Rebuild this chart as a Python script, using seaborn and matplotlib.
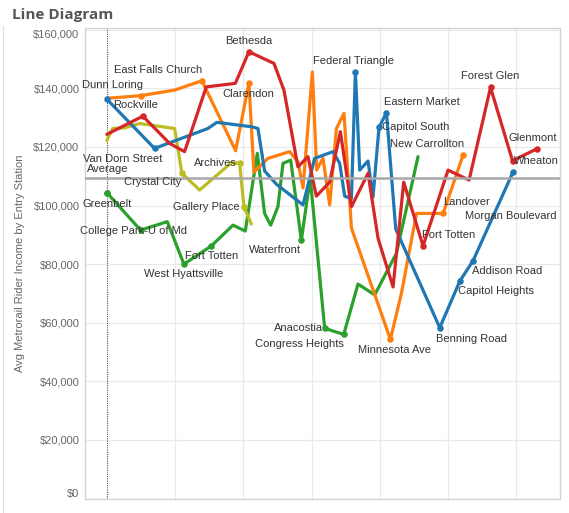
import pandas as pd
import numpy as np
import matplotlib
matplotlib.use("Agg")
import matplotlib.pyplot as plt
import seaborn as sns

# -------------------------------------------------
# data (x = position index, y = avg rider income)
# -------------------------------------------------
red_x = [0, 5.28, 9.19, 11.39, 14.57, 18.83, 20.82, 24.49, 25.95, 28.0, 29.47, 30.70,
         32.65, 34.22, 35.84, 38.27, 39.74, 41.94, 43.5, 46.33, 50.0, 53.08, 56.22, 59.44, 62.96]
red_y = [124300, 130500, 121200, 118400, 140500, 141700, 152500, 148500, 139400, 113200,
         116700, 103200, 108000, 125200, 99600, 111000, 88800, 72200, 108000, 86200,
         112100, 108700, 140300, 115300, 119300]

orange_x = [0, 4.94, 9.93, 13.93, 18.87, 20.82, 21.55, 23.61, 26.79, 28.0, 28.74, 30.12,
            30.75, 31.67, 32.65, 33.64, 34.75, 35.84, 41.55, 43.17, 45.37, 49.27, 52.2]
orange_y = [136600, 137500, 139400, 142600, 118700, 141900, 111400, 116100, 118400, 114900,
            106000, 145600, 112100, 116200, 100200, 126300, 131500, 92300, 54300, 70100,
            97300, 97300, 117200]

blue_x = [0, 6.99, 14.81, 16.13, 21.17, 22.14, 23.12, 24.84, 28.74, 30.45, 33.14, 34.12,
          34.85, 35.84, 36.42, 37.05, 38.27, 39.0, 39.88, 40.97, 42.33, 48.78, 51.72, 53.67, 59.53]
blue_y = [136300, 119500, 126300, 128400, 126900, 126300, 111800, 107300, 100200, 116100,
          118400, 114400, 103200, 102400, 145700, 112100, 115200, 102900, 126700, 131700,
          92000, 58300, 74200, 81200, 111500]

green_x = [0, 4.94, 8.86, 11.29, 15.31, 18.48, 20.29, 22.05, 23.12, 24.0, 25.07, 25.81,
           26.94, 28.5, 29.8, 31.92, 34.71, 36.8, 39.25, 42.43, 45.6]
green_y = [104400, 91600, 94500, 80000, 86200, 93300, 91300, 117800, 97300, 93300, 99600,
           114400, 115500, 88200, 109400, 58100, 56000, 73200, 69500, 83700, 116700]

yellow_x = [0, 0.84, 2.6, 4.79, 9.93, 11.0, 13.59, 18.24, 19.46, 20.09, 21.17]
yellow_y = [122200, 126300, 126500, 128000, 126300, 111000, 105300, 114600, 114400, 99600, 93700]

average_income = 109500

# labelled stations: (line, point index, name, dx px, dy px)
station_labels = [
    ("Red", 1, "Rockville", -7, -11),
    ("Red", 6, "Bethesda", 0, -11),
    ("Red", 19, "Fort Totten", 26, -11),
    ("Red", 22, "Forest Glen", 0, -11),
    ("Red", 23, "Wheaton", 24, 0),
    ("Red", 24, "Glenmont", -4, -11),
    ("Orange", 1, "Dunn Loring", -28, -11),
    ("Orange", 3, "East Falls Church", -44, -11),
    ("Orange", 5, "Clarendon", -1, 11),
    ("Orange", 18, "Minnesota Ave", 4, 11),
    ("Orange", 21, "Landover", 23, -11),
    ("Orange", 22, "New Carrollton", -36, -11),
    ("Blue", 1, "Van Dorn Street", -32, 11),
    ("Blue", 14, "Federal Triangle", -2, -11),
    ("Blue", 18, "Capitol South", 37, 0),
    ("Blue", 19, "Eastern Market", 35, -11),
    ("Blue", 21, "Benning Road", 32, 11),
    ("Blue", 22, "Capitol Heights", 36, 10),
    ("Blue", 23, "Addison Road", 34, 10),
    ("Blue", 24, "Morgan Boulevard", -2, 44),
    ("Green", 0, "Greenbelt", 0, 11),
    ("Green", 1, "College Park-U of Md", -7, 1),
    ("Green", 3, "West Hyattsville", 0, 10),
    ("Green", 4, "Fort Totten", 0, 10),
    ("Green", 13, "Waterfront", -26, 10),
    ("Green", 15, "Anacostia", -26, 0),
    ("Green", 16, "Congress Heights", -44, 10),
    ("Yellow", 5, "Crystal City", -29, 9),
    ("Yellow", 8, "Archives", -24, 0),
    ("Yellow", 9, "Gallery Place", -38, 0),
]

lines = {
    "Green": (green_x, green_y),
    "Yellow": (yellow_x, yellow_y),
    "Orange": (orange_x, orange_y),
    "Blue": (blue_x, blue_y),
    "Red": (red_x, red_y),
}
palette = {"Red": "#d62728", "Orange": "#ff7f0e", "Blue": "#1f77b4",
           "Green": "#2ca02c", "Yellow": "#bcbd22"}

df = pd.concat([pd.DataFrame({"line": k, "x": v[0], "y": v[1]}) for k, v in lines.items()],
               ignore_index=True)

sns.set_theme(style="white")
plt.rcParams["font.family"] = ["Liberation Sans", "DejaVu Sans"]

fig = plt.figure(figsize=(5.69, 5.13), dpi=100)
ax = fig.add_axes([85 / 569, 1 - 498.5 / 513, 475 / 569, 470.5 / 513])

# grid + reference lines
for yv in range(20000, 160001, 20000):
    ax.axhline(yv, color="#e9e9e9", lw=0.9, zorder=0)
for xv in range(10, 61, 10):
    ax.axvline(xv, color="#e9e9e9", lw=0.9, zorder=0)
ax.axvline(0, color="#555555", lw=0.8, ls=(0, (1, 1)), zorder=1)

sns.lineplot(data=df, x="x", y="y", hue="line", palette=palette, sort=False,
             estimator=None, lw=2.3, legend=False, ax=ax, zorder=3)

ax.axhline(average_income, color="#a8a8a8", lw=1.8, zorder=4)
ax.annotate("Average", (0, average_income), xytext=(1, 9), textcoords="offset pixels",
            ha="center", va="center", fontsize=8, color="#333333", zorder=6)

for line, idx, name, dx, dy in station_labels:
    xs, ys = lines[line]
    ax.scatter(xs[idx], ys[idx], s=22, color=palette[line], zorder=5, linewidths=0)
    ax.annotate(name, (xs[idx], ys[idx]), xytext=(dx, -dy), textcoords="offset pixels",
                ha="center", va="center", fontsize=8, color="#333333", zorder=6)
# start-of-line dots
for line in ["Blue", "Green"]:
    ax.scatter(lines[line][0][0], lines[line][1][0], s=22, color=palette[line], zorder=5,
               linewidths=0)

ax.set_xlim(-3.2, 66.4)
ax.set_ylim(0, 160600)
ax.set_xticks([])
ax.set_yticks(range(0, 160001, 20000))
ax.set_yticklabels([f"${v:,.0f}" for v in range(0, 160001, 20000)])
ax.tick_params(axis="y", length=0, labelsize=8, labelcolor="#666666", pad=4)
tl = ax.get_yticklabels()
tl[0].set_va("bottom")
tl[-1].set_va("top")
ax.set_xlabel("")
ax.set_ylabel("Avg Metrorail Rider Income by Entry Station", fontsize=8, color="#666666",
              labelpad=6)
for s in ax.spines.values():
    s.set_color("#d4d4d4")
    s.set_linewidth(1.0)

fig.text(12 / 569, 1 - 15 / 513, "Line Diagram", fontsize=11, fontweight="bold",
         color="#555555", va="center", ha="left", family=["Open Sans", "DejaVu Sans"])
fig.add_artist(plt.Line2D([3 / 569, 3 / 569], [0, 1 - 26 / 513], color="#e0e0e0", lw=0.8))

fig.savefig("out.png", dpi=100)
